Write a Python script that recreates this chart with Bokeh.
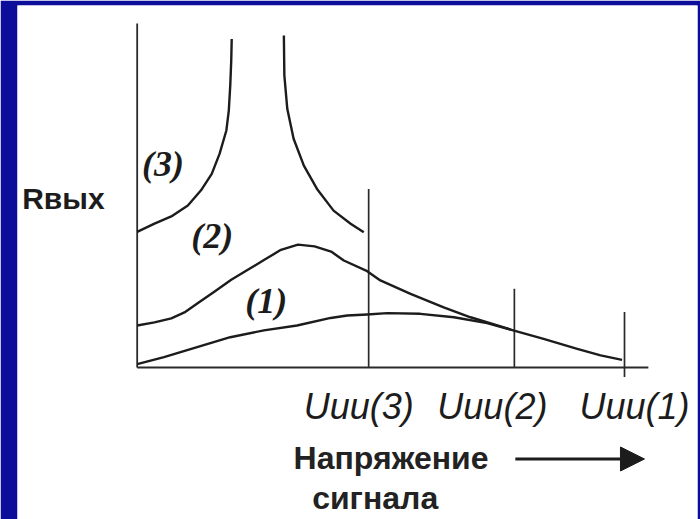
from bokeh.plotting import figure
from bokeh.models import Range1d, ColumnDataSource, Arrow, NormalHead
from bokeh.core.properties import value
from bokeh.embed import file_html
from bokeh.resources import INLINE

# Output resistance R_вых versus signal voltage for three operating modes.
# Saturation voltages on the horizontal axis (arbitrary units).
u_sat = [4.75, 7.74, 10.0]
u_labels = ["Uии(3)", "Uии(2)", "Uии(1)"]
marker_top = [5.19, 2.29, 1.61]
marker_bottom = [0.0, 0.0, -0.28]

# Curve (1)
curve1_u = [0.00, 0.55, 1.23, 1.91, 2.60, 3.28, 3.97, 4.31, 4.72, 5.13, 5.81,
            6.50, 7.18, 7.66, 8.34, 9.03, 9.51, 9.95]
curve1_r = [0.10, 0.30, 0.59, 0.88, 1.08, 1.22, 1.44, 1.51, 1.54, 1.58, 1.56,
            1.46, 1.29, 1.10, 0.83, 0.54, 0.35, 0.22]

# Curve (2)
curve2_u = [0.00, 0.355, 0.70, 0.97, 1.24, 1.59, 1.93, 2.27, 2.61, 2.95, 3.30,
            3.64, 3.98, 4.24, 4.72, 4.99, 5.61, 6.29, 6.84, 7.67]
curve2_r = [1.22, 1.31, 1.43, 1.60, 1.87, 2.21, 2.55, 2.84, 3.13, 3.42, 3.57,
            3.52, 3.37, 3.11, 2.80, 2.53, 2.14, 1.75, 1.46, 1.10]

# Curve (3): two branches diverging around the gap
curve3a_u = [0.00, 0.355, 0.70, 1.04, 1.31, 1.53, 1.69, 1.83, 1.88, 1.91,
             1.93, 1.94]
curve3a_r = [3.94, 4.18, 4.39, 4.71, 5.15, 5.63, 6.21, 6.89, 7.47, 8.20,
             8.92, 9.55]
curve3b_u = [3.01, 3.02, 3.08, 3.21, 3.42, 3.69, 4.03, 4.38, 4.65]
curve3b_r = [9.65, 8.49, 7.52, 6.65, 5.87, 5.19, 4.56, 4.18, 3.93]

curve_names = ["(1)", "(2)", "(3)"]

BLUE = "#0d0d9c"
INK = "#1c1c1c"

p = figure(width=700, height=519, title=None, output_backend="svg",
           toolbar_location=None,
           x_range=Range1d(-2.456, 11.498), y_range=Range1d(-4.419, 10.523),
           x_axis_location=None, y_axis_location=None,
           min_border_left=17, min_border_right=3,
           min_border_top=5, min_border_bottom=0,
           border_fill_color=BLUE, background_fill_color="white",
           outline_line_color=None)
p.grid.visible = False

# axes drawn as plain lines without ticks
p.segment(x0=[0, 0], y0=[0, 0], x1=[0, 10.49], y1=[10.0, 0],
          line_color="#2a2a2a", line_width=1.8)

# saturation markers
p.segment(x0=u_sat, y0=marker_bottom, x1=u_sat, y1=marker_top,
          line_color="#2a2a2a", line_width=1.7)

# curves
for xs, ys in [(curve1_u, curve1_r), (curve2_u, curve2_r),
               (curve3a_u, curve3a_r), (curve3b_u, curve3b_r)]:
    p.line(xs, ys, line_color=INK, line_width=2.4, line_join="round")

# curve labels
p.text(x=[2.65, 1.54, 0.53], y=[1.92, 3.81, 5.91], text=curve_names,
       text_font=value("Liberation Serif"), text_font_style="bold italic",
       text_font_size="36px", text_color=INK,
       text_align="center", text_baseline="middle")

# saturation voltage labels
lab = ColumnDataSource(dict(x=u_sat, text=u_labels, dx=[-10, -22, 10]))
p.text(x="x", y=-1.12, text="text", x_offset="dx", source=lab,
       text_font=value("Liberation Sans"), text_font_style="italic",
       text_font_size="36px", text_color=INK,
       text_align="center", text_baseline="alphabetic")

# axis titles
p.text(x=[-2.36], y=[4.92], text=["Rвых"],
       text_font=value("Liberation Sans"), text_font_style="bold",
       text_font_size="30px", text_color=INK,
       text_align="left", text_baseline="alphabetic")
p.text(x=[3.21, 3.59], y=[-2.63, -3.80], text=["Напряжение", "сигнала"],
       text_font=value("Liberation Sans"), text_font_style="bold",
       text_font_size="32px", text_color="#222222",
       text_align="left", text_baseline="alphabetic")

p.add_layout(Arrow(x_start=7.76, y_start=-2.66, x_end=10.41, y_end=-2.66,
                   line_color=INK, line_width=3,
                   end=NormalHead(size=24, fill_color=INK, line_color=INK)))

open("out.html", "w").write(file_html(p, INLINE))
